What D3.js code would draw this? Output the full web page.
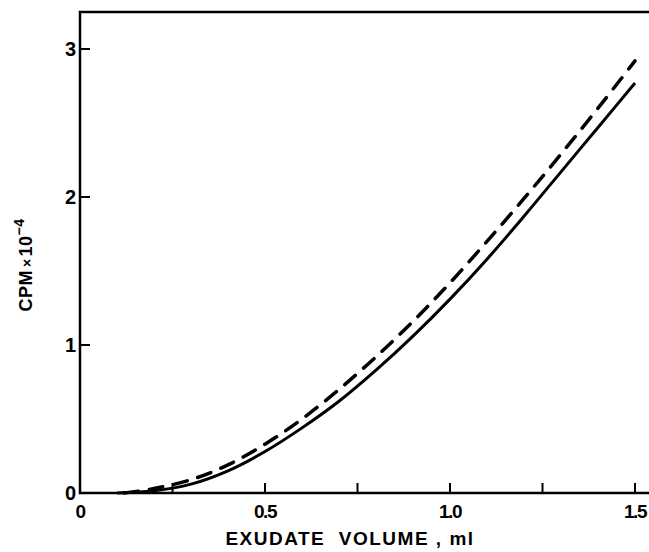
<!DOCTYPE html>
<html>
<head>
<meta charset="utf-8">
<script src="https://cdn.jsdelivr.net/npm/d3@7"></script>
<style>
  body { margin: 0; background: #fff; }
  text { font-family: "Liberation Sans", Arial, sans-serif; font-weight: bold; fill: #000; }
</style>
</head>
<body>
<div id="chart"></div>
<script>
  // exudate volume (ml) vs CPM x 10^-4
  const solidX = [0.1, 0.2, 0.3, 0.4, 0.5, 0.6, 0.7, 0.8, 0.9, 1.0, 1.1, 1.2, 1.3, 1.4, 1.5];
  const solidY = [0, 0.015, 0.06, 0.15, 0.28, 0.44, 0.62, 0.83, 1.06, 1.31, 1.58, 1.87, 2.17, 2.47, 2.77];
  const dashX = [0.12, 0.2, 0.3, 0.4, 0.5, 0.6, 0.7, 0.8, 0.9, 1.0, 1.1, 1.2, 1.3, 1.4, 1.5];
  const dashY = [0, 0.03, 0.09, 0.19, 0.33, 0.50, 0.70, 0.92, 1.16, 1.42, 1.70, 1.99, 2.29, 2.60, 2.92];
  const xTicks = [0, 0.25, 0.5, 0.75, 1.0, 1.25, 1.5];
  const xLabels = [[0, "0"], [0.5, "0.5"], [1.0, "1.0"], [1.5, "1.5"]];
  const yTicks = [0, 1, 2, 3];

  const [width, height] = [649, 552];
  const svg = d3.select("#chart").append("svg")
    .attr("width", width)
    .attr("height", height);

  const x = d3.scaleLinear().domain([0, 1.5]).range([80, 635]);
  const y = d3.scaleLinear().domain([0, 3]).range([493, 49]);
  const yTop = 12;

  // frame: left axis, bottom axis, top border
  svg.append("path")
    .attr("d", `M${width},${yTop}H${x(0)}V${y(0)}H${width}`)
    .attr("fill", "none")
    .attr("stroke", "#000")
    .attr("stroke-width", 2.5);

  // ticks point inward
  svg.selectAll(".xt").data(xTicks.slice(1)).enter().append("line")
    .attr("x1", d => x(d)).attr("x2", d => x(d))
    .attr("y1", y(0)).attr("y2", y(0) - 10)
    .attr("stroke", "#000").attr("stroke-width", 2);

  svg.selectAll(".yt").data(yTicks.slice(1)).enter().append("line")
    .attr("x1", x(0)).attr("x2", x(0) + 10)
    .attr("y1", d => y(d)).attr("y2", d => y(d))
    .attr("stroke", "#000").attr("stroke-width", 2);

  svg.selectAll(".xl").data(xLabels).enter().append("text")
    .attr("x", d => x(d[0]))
    .attr("y", y(0) + 25)
    .attr("text-anchor", "middle")
    .attr("font-size", 19)
    .attr("letter-spacing", -1.5)
    .text(d => d[1]);

  svg.selectAll(".yl").data(yTicks).enter().append("text")
    .attr("x", x(0) - 4)
    .attr("y", d => y(d) + 7)
    .attr("text-anchor", "end")
    .attr("font-size", 20)
    .text(d => d);

  // axis titles
  svg.append("text")
    .attr("x", 350).attr("y", 545)
    .attr("text-anchor", "middle")
    .attr("font-size", 19)
    .attr("letter-spacing", 1.5)
    .attr("xml:space", "preserve")
    .text("EXUDATE  VOLUME , ml");

  const yt = svg.append("text")
    .attr("transform", "translate(32,265) rotate(-90)")
    .attr("text-anchor", "middle")
    .attr("font-size", 18)
    .attr("letter-spacing", 0.5);
  yt.append("tspan").text("CPM");
  yt.append("tspan").attr("font-size", 14).attr("dx", 3).text("×");
  yt.append("tspan").attr("dx", 2).text("10");
  yt.append("tspan").attr("font-size", 14).attr("dy", -8).text("−4");

  const line = d3.line()
    .x(d => x(d[0]))
    .y(d => y(d[1]))
    .curve(d3.curveCatmullRom);

  svg.append("path")
    .datum(d3.zip(solidX, solidY))
    .attr("d", line)
    .attr("fill", "none")
    .attr("stroke", "#000")
    .attr("stroke-width", 3);

  svg.append("path")
    .datum(d3.zip(dashX, dashY))
    .attr("d", line)
    .attr("fill", "none")
    .attr("stroke", "#000")
    .attr("stroke-width", 3.5)
    .attr("stroke-linecap", "round")
    .attr("stroke-dasharray", "14,11");
</script>
</body>
</html>
